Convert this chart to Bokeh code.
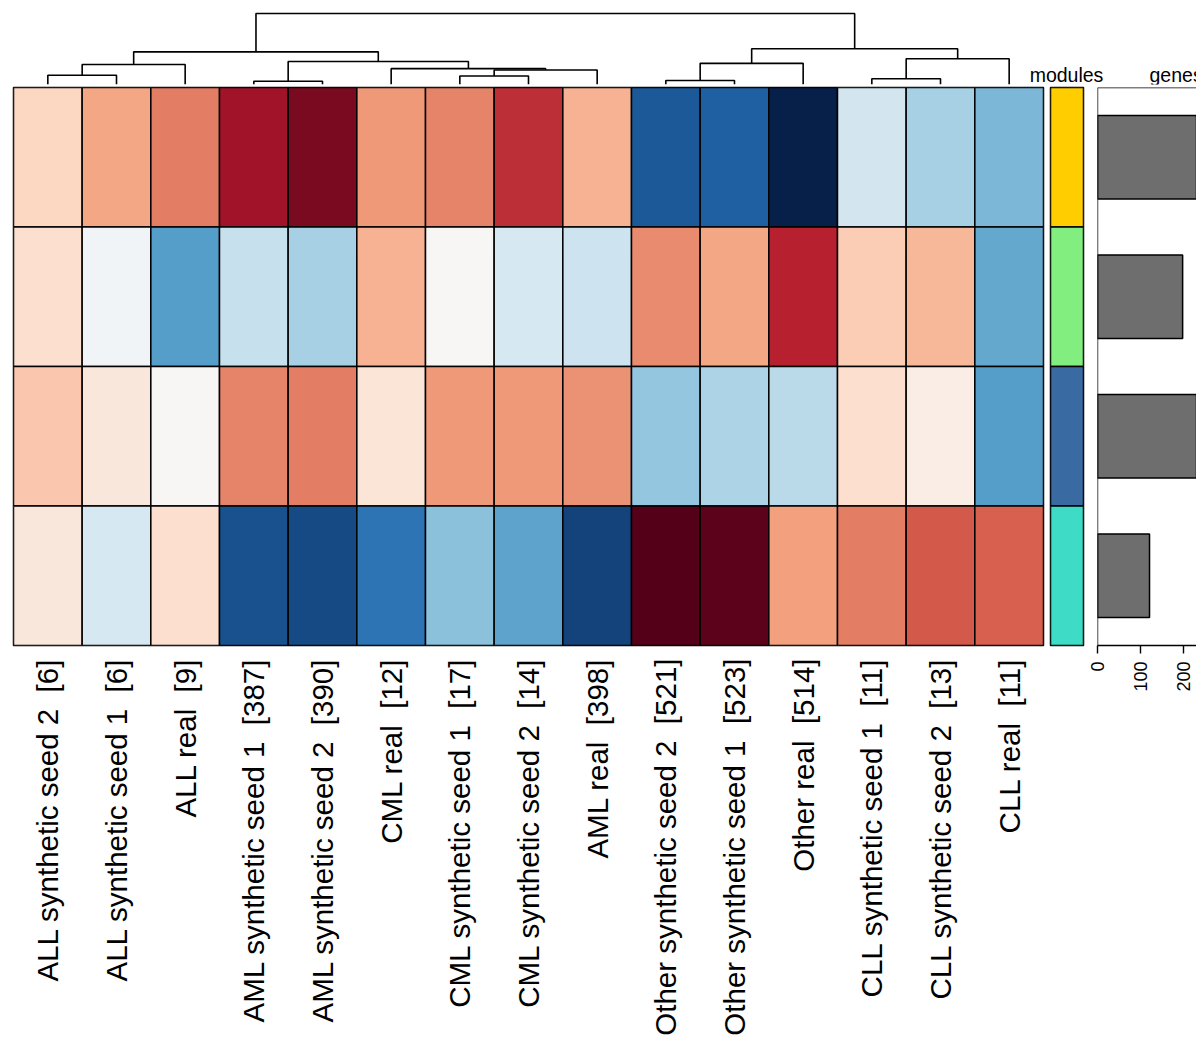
import math
import numpy as np
from bokeh.plotting import figure
from bokeh.models import (ColumnDataSource, LinearColorMapper, FactorRange, Range1d,
                          FixedTicker, Span)
from bokeh.layouts import row, column
from bokeh.transform import transform
from bokeh.core.properties import value
from bokeh.embed import file_html
from bokeh.resources import INLINE

# ---------------- data ----------------
columns = [
    "ALL synthetic seed 2 \u00a0[6]", "ALL synthetic seed 1 \u00a0[6]", "ALL real \u00a0[9]",
    "AML synthetic seed 1 \u00a0[387]", "AML synthetic seed 2 \u00a0[390]", "CML real \u00a0[12]",
    "CML synthetic seed 1 \u00a0[17]", "CML synthetic seed 2 \u00a0[14]", "AML real \u00a0[398]",
    "Other synthetic seed 2 \u00a0[521]", "Other synthetic seed 1 \u00a0[523]", "Other real \u00a0[514]",
    "CLL synthetic seed 1 \u00a0[11]", "CLL synthetic seed 2 \u00a0[13]", "CLL real \u00a0[11]",
]
modules = ["module 1", "module 2", "module 3", "module 4"]
panel_titles = ["modules", "genes"]

module1_values = [0.40, 0.76, 1.03, 1.68, 1.82, 0.84, 0.98, 1.46, 0.68, -1.66, -1.60, -2.00, -0.38, -0.66, -0.90]
module2_values = [0.36, -0.07, -1.08, -0.47, -0.66, 0.68, 0.00, -0.36, -0.41, 0.94, 0.76, 1.54, 0.48, 0.66, -1.04]
module3_values = [0.52, 0.22, 0.02, 0.98, 1.01, 0.27, 0.84, 0.84, 0.90, -0.78, -0.62, -0.54, 0.36, 0.12, -1.08]
module4_values = [0.20, -0.36, 0.34, -1.72, -1.76, -1.46, -0.82, -1.06, -1.79, 2.00, 1.94, 0.80, 1.03, 1.20, 1.19]

module_colors = ["#ffcd00", "#82ee80", "#396aa2", "#3edcc6"]
genes_per_module = [300, 198, 280, 121]
genes_ticks = [0, 100, 200, 300]

# dendrogram merges (leaves 0..14 in display order, merge k gets index 15+k)
merge_left = [0, 15, 3, 6, 18, 5, 17, 16, 9, 23, 12, 25, 24, 22]
merge_right = [1, 2, 4, 7, 8, 19, 20, 21, 10, 11, 13, 14, 26, 27]
merge_height = [1.31, 2.82, 0.46, 1.20, 2.04, 2.23, 3.24, 4.60, 0.56, 2.98, 0.82, 3.62, 5.03, 10.0]

# ---------------- styling / layout ----------------
FONT = "Liberation Sans"
palette_stops = ["#06204a", "#2166ac", "#4393c3", "#92c5de", "#d1e5f0", "#f7f7f7",
                 "#fddbc7", "#f4a582", "#d6604d", "#b2182b", "#540019"]


def interp_palette(stops, n):
    rgb = np.array([[int(s[i:i + 2], 16) for i in (1, 3, 5)] for s in stops], dtype=float)
    pos = np.linspace(0, 1, len(stops))
    out = []
    for t in np.linspace(0, 1, n):
        c = [np.interp(t, pos, rgb[:, k]) for k in range(3)]
        out.append("#%02x%02x%02x" % tuple(int(round(v)) for v in c))
    return out


palette = interp_palette(palette_stops, 100)
mapper = LinearColorMapper(palette=palette, low=-2, high=2)

HEAT_BL, HEAT_FW, HEAT_BR = 13, 1030, 5
TOP_H = 86
DENDRO_W = 1028
DENDRO_BT, DENDRO_FH, DENDRO_BB = 11, 73, 2
DENDRO_ROOT_PX = 71
HEAD_W = 168
HEAD_TEXT_X = [38, 121]          # header text anchors (px inside header strip)
HEAD_TEXT_ALIGN = ["center", "left"]
HEAD_BASELINE = 11
BOT_BT, FRAME_H, LABEL_H = 1, 558, 408
MOD_BL, MOD_FW, MOD_BR = 2, 33, 5
GENES_BL, GENES_W = 9, 108
GENES_PX_PER_UNIT = 0.43

n = len(columns)

# ---------------- dendrogram ----------------
node_x = [i + 0.5 for i in range(n)]
node_h = [0.0] * n
xs, ys = [], []
for l, r, h in zip(merge_left, merge_right, merge_height):
    xl, xr = node_x[l], node_x[r]
    hl, hr = node_h[l], node_h[r]
    xs.append([xl, xl, xr, xr])
    ys.append([hl, h, h, hr])
    node_x.append((xl + xr) / 2)
    node_h.append(h)

root_h = max(merge_height)
dendro = figure(width=DENDRO_W, height=TOP_H,
                x_range=Range1d(0, n * (DENDRO_W - HEAT_BL) / HEAT_FW),
                y_range=Range1d(0, root_h * DENDRO_FH / DENDRO_ROOT_PX),
                min_border_left=HEAT_BL, min_border_right=0,
                min_border_top=DENDRO_BT, min_border_bottom=DENDRO_BB,
                x_axis_location=None, y_axis_location=None,
                toolbar_location=None, output_backend="svg", outline_line_color=None)
dendro.multi_line(xs=xs, ys=ys, line_color="black", line_width=1.6)
dendro.grid.visible = False

# ---------------- header ----------------
head = figure(width=HEAD_W, height=TOP_H, x_range=Range1d(0, HEAD_W), y_range=Range1d(0, TOP_H),
              min_border=0, min_border_left=0, min_border_right=0, min_border_top=0, min_border_bottom=0,
              x_axis_location=None, y_axis_location=None,
              toolbar_location=None, output_backend="svg", outline_line_color=None)
head.grid.visible = False
head_src = ColumnDataSource(dict(x=HEAD_TEXT_X, y=[HEAD_BASELINE] * 2, text=panel_titles,
                                 align=HEAD_TEXT_ALIGN))
head.text(x="x", y="y", text="text", text_align="align", source=head_src,
          text_baseline="alphabetic", text_font=value(FONT), text_font_size="19.5px",
          text_color="black")

# ---------------- heatmap ----------------
hx, hy, hv = [], [], []
for m, vals in zip(modules, [module1_values, module2_values, module3_values, module4_values]):
    for c, v in zip(columns, vals):
        hx.append(c)
        hy.append(m)
        hv.append(v)
heat_src = ColumnDataSource(dict(column=hx, module=hy, value=hv))

y_rng = FactorRange(*modules[::-1])
heat = figure(width=HEAT_BL + HEAT_FW + HEAT_BR, height=BOT_BT + FRAME_H + LABEL_H,
              x_range=FactorRange(*columns), y_range=y_rng,
              min_border_left=HEAT_BL, min_border_right=HEAT_BR,
              min_border_top=BOT_BT, min_border_bottom=LABEL_H,
              y_axis_location=None, toolbar_location=None, output_backend="svg",
              outline_line_color="black", outline_line_width=1.5)
heat.rect(x="column", y="module", width=1, height=1, source=heat_src,
          fill_color=transform("value", mapper), line_color="black", line_width=1.5)
heat.grid.visible = False
ax = heat.xaxis[0]
ax.axis_line_color = None
ax.major_tick_line_color = None
ax.minor_tick_line_color = None
ax.major_tick_out = 0
ax.major_tick_in = 0
ax.major_label_standoff = 13
ax.major_label_orientation = math.pi / 2
ax.major_label_text_font = FONT
ax.major_label_text_font_size = "29.5px"
ax.major_label_text_color = "black"

# ---------------- modules column ----------------
mod_src = ColumnDataSource(dict(name=["modules"] * len(modules), module=modules, color=module_colors))
mod = figure(width=MOD_BL + MOD_FW + MOD_BR, height=BOT_BT + FRAME_H + LABEL_H,
             x_range=FactorRange("modules"), y_range=y_rng,
             min_border_left=MOD_BL, min_border_right=MOD_BR,
             min_border_top=BOT_BT, min_border_bottom=LABEL_H,
             x_axis_location=None, y_axis_location=None,
             toolbar_location=None, output_backend="svg",
             outline_line_color="black", outline_line_width=1.5)
mod.rect(x="name", y="module", width=1, height=1, source=mod_src,
         fill_color="color", line_color="black", line_width=1.5)
mod.grid.visible = False

# ---------------- genes bars ----------------
genes_src = ColumnDataSource(dict(module=modules, genes=genes_per_module))
genes = figure(width=GENES_W, height=BOT_BT + FRAME_H + LABEL_H,
               x_range=Range1d(0, (GENES_W - GENES_BL) / GENES_PX_PER_UNIT), y_range=y_rng,
               min_border_left=GENES_BL, min_border_right=0,
               min_border_top=BOT_BT, min_border_bottom=LABEL_H,
               y_axis_location=None, toolbar_location=None, output_backend="svg",
               outline_line_color=None)
genes.hbar(y="module", left=0, right="genes", height=0.6, source=genes_src,
           fill_color="#6e6e6e", line_color="black", line_width=1.5)
genes.grid.visible = False
genes.add_layout(Span(location=0, dimension="height", line_color="black", line_width=1.4))
genes.add_layout(Span(location=len(modules), dimension="width", line_color="black", line_width=1.4))
gax = genes.xaxis[0]
gax.ticker = FixedTicker(ticks=genes_ticks)
gax.minor_tick_line_color = None
gax.axis_line_color = "black"
gax.axis_line_width = 1.4
gax.major_tick_line_color = "black"
gax.major_tick_line_width = 1.4
gax.major_tick_out = 8
gax.major_tick_in = 0
gax.major_label_standoff = 8
gax.major_label_orientation = math.pi / 2
gax.major_label_text_font = FONT
gax.major_label_text_font_size = "18px"
gax.major_label_text_color = "black"

layout = column(row(dendro, head), row(heat, mod, genes))

with open("out.html", "w") as f:
    f.write(file_html(layout, INLINE, title="heatmap"))
